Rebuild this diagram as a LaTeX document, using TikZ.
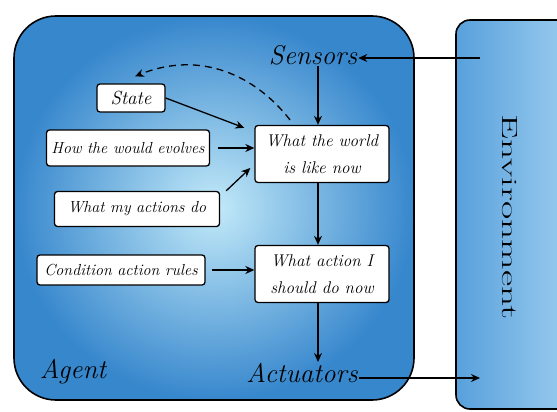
\documentclass[tikz,border=0pt]{standalone}
\usetikzlibrary{arrows.meta,calc}
\usepackage{graphicx}
\definecolor{agentedge}{RGB}{55,135,205}
\definecolor{agentmid}{RGB}{195,234,249}
\definecolor{envedge}{RGB}{88,160,220}
\definecolor{envmid}{RGB}{160,208,240}
\tikzset{
  blk/.style={draw=black, line width=1.3pt, rounded corners=3pt, fill=white,
    align=center, inner sep=2pt, font=\itshape\fontsize{16}{26}\selectfont},
  flow/.style={line width=1.3pt, -{Stealth[length=9pt,width=8pt]}},
  biglabel/.style={font=\itshape\fontsize{27}{30}\selectfont, inner sep=1pt}
}
\begin{document}
\begin{tikzpicture}[x=1pt,y=-1pt]
  \useasboundingbox (0,0) rectangle (557,412);
  % agent and environment panels
  \shade[inner color=agentmid, outer color=agentedge, rounded corners=42pt]
    (14,16) rectangle (414,400);
  \draw[line width=1.6pt, rounded corners=42pt] (14,16) rectangle (414,400);
  \shade[left color=envedge, right color=envmid, rounded corners=14pt]
    (456,20) rectangle (580,409);
  \draw[line width=1.6pt, rounded corners=14pt] (456,20) rectangle (580,409);

  \node[rotate=-90, font=\fontsize{22}{24}\selectfont] (env) at (510,217)
    {\scalebox{1.8}[1]{Environment}};

  % labels at the agent boundary
  \node[biglabel] (sensors) at (313,55) {Sensors};
  \node[biglabel] (actuators) at (302,373) {Actuators};
  \node[biglabel] (agent) at (73,372) {Agent};

  % knowledge boxes
  \node[blk, minimum width=68pt, minimum height=28pt,
    font=\itshape\fontsize{19}{22}\selectfont] (state) at (131,98) {State};
  \node[blk, minimum width=163pt, minimum height=36pt] (how) at (128,148) {How the would evolves};
  \node[blk, minimum width=165pt, minimum height=35pt] (myact) at (137,209) {What my actions do};
  \node[blk, minimum width=168pt, minimum height=30pt] (cond) at (121,270) {Condition action rules};
  \node[blk, minimum width=134pt, minimum height=57pt,
    font=\itshape\fontsize{17}{27}\selectfont] (world) at (322,154)
    {What the world\\ is like now};
  \node[blk, minimum width=134pt, minimum height=57pt,
    font=\itshape\fontsize{17}{27}\selectfont] (action) at (322,274)
    {What action I\\ should do now};

  \coordinate (envin) at (480,58);
  \coordinate (envout) at (480,378);
  \coordinate (vline) at (318,0);

  % connectors
  \draw[flow] (envin) -- (sensors.east |- envin);
  \draw[flow] (vline |- sensors.south) -- (vline |- world.north);
  \draw[flow] (state.east) -- ($(world.north west)+(-10,3)$);
  \draw[flow] (how.east) ++(8,0) -- (world.west |- how.east);
  \draw[flow] (myact.north east) ++(6,0) -- ($(world.west)+(-4,14)$);
  \draw[flow] (cond.east) ++(6,0) -- (action.west |- cond.east);
  \draw[flow] (vline |- world.south) -- (vline |- action.north);
  \draw[flow] (vline |- action.south) -- (vline |- actuators.north);
  \draw[flow] (actuators.east |- envout) -- (envout);
  \draw[line width=1.3pt, dash pattern=on 7pt off 5pt, -{Stealth[length=9pt,width=8pt]}]
    ($(world.north)+(-32,-5)$) .. controls (255,75) and (200,50) .. ($(state.north)+(4,-7)$);
\end{tikzpicture}
\end{document}
